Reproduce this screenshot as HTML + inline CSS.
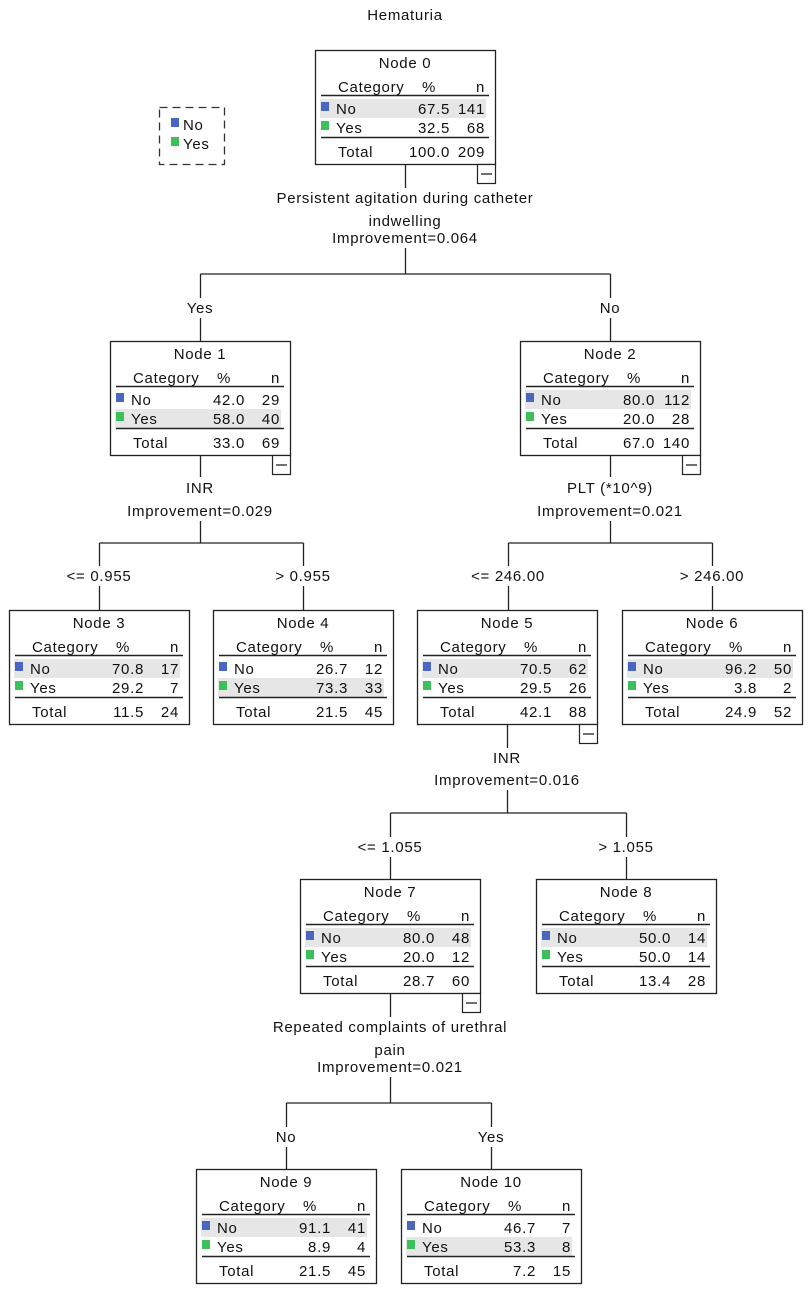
<!DOCTYPE html>
<html><head><meta charset="utf-8"><style>
html,body{margin:0;padding:0;background:#fff}
svg text{font-family:"Liberation Sans",sans-serif;font-size:15px;fill:#111;letter-spacing:0.7px}
.m{text-anchor:middle}.e{text-anchor:end}
</style></head><body>
<svg width="808" height="1291" viewBox="0 0 808 1291" xmlns="http://www.w3.org/2000/svg">
<text x="405" y="20" class="m">Hematuria</text>
<rect x="159.5" y="107.5" width="65" height="57" fill="none" stroke="#333" stroke-width="1.3" stroke-dasharray="8,5"/>
<rect x="171" y="118" width="8" height="9" fill="#4a66c0"/><text x="183" y="130">No</text>
<rect x="171" y="137" width="8" height="9" fill="#3cc05a"/><text x="183" y="149">Yes</text>

<g stroke="#222" stroke-width="1.3" fill="none">
<path d="M405.5 164V188M405.5 248V274M200.5 274H610.5M200.5 274V298M610.5 274V298M200.5 318V341M610.5 318V341"/>
<path d="M200.5 455V477M200.5 521V543M99.5 543H303.5M99.5 543V566M303.5 543V566M99.5 586V610M303.5 586V610"/>
<path d="M610.5 455V477M610.5 521V543M508.5 543H712.5M508.5 543V566M712.5 543V566M508.5 586V610M712.5 586V610"/>
<path d="M507.5 724V748M507.5 790V813M390.5 813H626.5M390.5 813V837M626.5 813V837M390.5 857V879M626.5 857V879"/>
<path d="M390.5 993V1017M390.5 1077V1103M286.5 1103H491.5M286.5 1103V1127M491.5 1103V1127M286.5 1147V1169M491.5 1147V1169"/>
</g>

<text x="405" y="203" class="m">Persistent agitation during catheter</text>
<text x="405" y="226" class="m">indwelling</text>
<text x="405" y="243" class="m">Improvement=0.064</text>
<text x="200" y="313" class="m">Yes</text>
<text x="610" y="313" class="m">No</text>
<text x="200" y="493" class="m">INR</text>
<text x="200" y="516" class="m">Improvement=0.029</text>
<text x="610" y="493" class="m">PLT (*10^9)</text>
<text x="610" y="516" class="m">Improvement=0.021</text>
<text x="99" y="581" class="m">&lt;= 0.955</text>
<text x="303" y="581" class="m">&gt; 0.955</text>
<text x="508" y="581" class="m">&lt;= 246.00</text>
<text x="712" y="581" class="m">&gt; 246.00</text>
<text x="507" y="763" class="m">INR</text>
<text x="507" y="785" class="m">Improvement=0.016</text>
<text x="390" y="852" class="m">&lt;= 1.055</text>
<text x="626" y="852" class="m">&gt; 1.055</text>
<text x="390" y="1032" class="m">Repeated complaints of urethral</text>
<text x="390" y="1055" class="m">pain</text>
<text x="390" y="1072" class="m">Improvement=0.021</text>
<text x="286" y="1142" class="m">No</text>
<text x="491" y="1142" class="m">Yes</text>

<g transform="translate(315,50)">
<rect x="0.5" y="0.5" width="180" height="114" fill="#fff" stroke="#222" stroke-width="1.3"/>
<rect x="5" y="49" width="166" height="19" fill="#e6e6e6"/>
<text x="90" y="18" class="m">Node 0</text>
<text x="23" y="42">Category</text><text x="114" y="42" class="m">%</text><text x="170" y="42" class="e">n</text>
<line x1="6" y1="45.5" x2="174" y2="45.5" stroke="#222" stroke-width="1.5"/>
<rect x="6" y="52" width="8" height="9" fill="#4a66c0"/><text x="21" y="64">No</text><text x="135" y="64" class="e">67.5</text><text x="170" y="64" class="e">141</text>
<rect x="6" y="71" width="8" height="9" fill="#3cc05a"/><text x="21" y="83">Yes</text><text x="135" y="83" class="e">32.5</text><text x="170" y="83" class="e">68</text>
<line x1="6" y1="87.5" x2="174" y2="87.5" stroke="#222" stroke-width="1.5"/>
<text x="23" y="107">Total</text><text x="135" y="107" class="e">100.0</text><text x="170" y="107" class="e">209</text>
<rect x="162.5" y="114.5" width="18" height="19" fill="#fff" stroke="#222" stroke-width="1.2"/><line x1="166" y1="124" x2="177" y2="124" stroke="#222" stroke-width="1.3"/>
</g>

<g transform="translate(110,341)">
<rect x="0.5" y="0.5" width="180" height="114" fill="#fff" stroke="#222" stroke-width="1.3"/>
<rect x="5" y="68" width="166" height="19" fill="#e6e6e6"/>
<text x="90" y="18" class="m">Node 1</text>
<text x="23" y="42">Category</text><text x="114" y="42" class="m">%</text><text x="170" y="42" class="e">n</text>
<line x1="6" y1="45.5" x2="174" y2="45.5" stroke="#222" stroke-width="1.5"/>
<rect x="6" y="52" width="8" height="9" fill="#4a66c0"/><text x="21" y="64">No</text><text x="135" y="64" class="e">42.0</text><text x="170" y="64" class="e">29</text>
<rect x="6" y="71" width="8" height="9" fill="#3cc05a"/><text x="21" y="83">Yes</text><text x="135" y="83" class="e">58.0</text><text x="170" y="83" class="e">40</text>
<line x1="6" y1="87.5" x2="174" y2="87.5" stroke="#222" stroke-width="1.5"/>
<text x="23" y="107">Total</text><text x="135" y="107" class="e">33.0</text><text x="170" y="107" class="e">69</text>
<rect x="162.5" y="114.5" width="18" height="19" fill="#fff" stroke="#222" stroke-width="1.2"/><line x1="166" y1="124" x2="177" y2="124" stroke="#222" stroke-width="1.3"/>
</g>

<g transform="translate(520,341)">
<rect x="0.5" y="0.5" width="180" height="114" fill="#fff" stroke="#222" stroke-width="1.3"/>
<rect x="5" y="49" width="166" height="19" fill="#e6e6e6"/>
<text x="90" y="18" class="m">Node 2</text>
<text x="23" y="42">Category</text><text x="114" y="42" class="m">%</text><text x="170" y="42" class="e">n</text>
<line x1="6" y1="45.5" x2="174" y2="45.5" stroke="#222" stroke-width="1.5"/>
<rect x="6" y="52" width="8" height="9" fill="#4a66c0"/><text x="21" y="64">No</text><text x="135" y="64" class="e">80.0</text><text x="170" y="64" class="e">112</text>
<rect x="6" y="71" width="8" height="9" fill="#3cc05a"/><text x="21" y="83">Yes</text><text x="135" y="83" class="e">20.0</text><text x="170" y="83" class="e">28</text>
<line x1="6" y1="87.5" x2="174" y2="87.5" stroke="#222" stroke-width="1.5"/>
<text x="23" y="107">Total</text><text x="135" y="107" class="e">67.0</text><text x="170" y="107" class="e">140</text>
<rect x="162.5" y="114.5" width="18" height="19" fill="#fff" stroke="#222" stroke-width="1.2"/><line x1="166" y1="124" x2="177" y2="124" stroke="#222" stroke-width="1.3"/>
</g>

<g transform="translate(9,610)">
<rect x="0.5" y="0.5" width="180" height="114" fill="#fff" stroke="#222" stroke-width="1.3"/>
<rect x="5" y="49" width="166" height="19" fill="#e6e6e6"/>
<text x="90" y="18" class="m">Node 3</text>
<text x="23" y="42">Category</text><text x="114" y="42" class="m">%</text><text x="170" y="42" class="e">n</text>
<line x1="6" y1="45.5" x2="174" y2="45.5" stroke="#222" stroke-width="1.5"/>
<rect x="6" y="52" width="8" height="9" fill="#4a66c0"/><text x="21" y="64">No</text><text x="135" y="64" class="e">70.8</text><text x="170" y="64" class="e">17</text>
<rect x="6" y="71" width="8" height="9" fill="#3cc05a"/><text x="21" y="83">Yes</text><text x="135" y="83" class="e">29.2</text><text x="170" y="83" class="e">7</text>
<line x1="6" y1="87.5" x2="174" y2="87.5" stroke="#222" stroke-width="1.5"/>
<text x="23" y="107">Total</text><text x="135" y="107" class="e">11.5</text><text x="170" y="107" class="e">24</text>
</g>

<g transform="translate(213,610)">
<rect x="0.5" y="0.5" width="180" height="114" fill="#fff" stroke="#222" stroke-width="1.3"/>
<rect x="5" y="68" width="166" height="19" fill="#e6e6e6"/>
<text x="90" y="18" class="m">Node 4</text>
<text x="23" y="42">Category</text><text x="114" y="42" class="m">%</text><text x="170" y="42" class="e">n</text>
<line x1="6" y1="45.5" x2="174" y2="45.5" stroke="#222" stroke-width="1.5"/>
<rect x="6" y="52" width="8" height="9" fill="#4a66c0"/><text x="21" y="64">No</text><text x="135" y="64" class="e">26.7</text><text x="170" y="64" class="e">12</text>
<rect x="6" y="71" width="8" height="9" fill="#3cc05a"/><text x="21" y="83">Yes</text><text x="135" y="83" class="e">73.3</text><text x="170" y="83" class="e">33</text>
<line x1="6" y1="87.5" x2="174" y2="87.5" stroke="#222" stroke-width="1.5"/>
<text x="23" y="107">Total</text><text x="135" y="107" class="e">21.5</text><text x="170" y="107" class="e">45</text>
</g>

<g transform="translate(417,610)">
<rect x="0.5" y="0.5" width="180" height="114" fill="#fff" stroke="#222" stroke-width="1.3"/>
<rect x="5" y="49" width="166" height="19" fill="#e6e6e6"/>
<text x="90" y="18" class="m">Node 5</text>
<text x="23" y="42">Category</text><text x="114" y="42" class="m">%</text><text x="170" y="42" class="e">n</text>
<line x1="6" y1="45.5" x2="174" y2="45.5" stroke="#222" stroke-width="1.5"/>
<rect x="6" y="52" width="8" height="9" fill="#4a66c0"/><text x="21" y="64">No</text><text x="135" y="64" class="e">70.5</text><text x="170" y="64" class="e">62</text>
<rect x="6" y="71" width="8" height="9" fill="#3cc05a"/><text x="21" y="83">Yes</text><text x="135" y="83" class="e">29.5</text><text x="170" y="83" class="e">26</text>
<line x1="6" y1="87.5" x2="174" y2="87.5" stroke="#222" stroke-width="1.5"/>
<text x="23" y="107">Total</text><text x="135" y="107" class="e">42.1</text><text x="170" y="107" class="e">88</text>
<rect x="162.5" y="114.5" width="18" height="19" fill="#fff" stroke="#222" stroke-width="1.2"/><line x1="166" y1="124" x2="177" y2="124" stroke="#222" stroke-width="1.3"/>
</g>

<g transform="translate(622,610)">
<rect x="0.5" y="0.5" width="180" height="114" fill="#fff" stroke="#222" stroke-width="1.3"/>
<rect x="5" y="49" width="166" height="19" fill="#e6e6e6"/>
<text x="90" y="18" class="m">Node 6</text>
<text x="23" y="42">Category</text><text x="114" y="42" class="m">%</text><text x="170" y="42" class="e">n</text>
<line x1="6" y1="45.5" x2="174" y2="45.5" stroke="#222" stroke-width="1.5"/>
<rect x="6" y="52" width="8" height="9" fill="#4a66c0"/><text x="21" y="64">No</text><text x="135" y="64" class="e">96.2</text><text x="170" y="64" class="e">50</text>
<rect x="6" y="71" width="8" height="9" fill="#3cc05a"/><text x="21" y="83">Yes</text><text x="135" y="83" class="e">3.8</text><text x="170" y="83" class="e">2</text>
<line x1="6" y1="87.5" x2="174" y2="87.5" stroke="#222" stroke-width="1.5"/>
<text x="23" y="107">Total</text><text x="135" y="107" class="e">24.9</text><text x="170" y="107" class="e">52</text>
</g>

<g transform="translate(300,879)">
<rect x="0.5" y="0.5" width="180" height="114" fill="#fff" stroke="#222" stroke-width="1.3"/>
<rect x="5" y="49" width="166" height="19" fill="#e6e6e6"/>
<text x="90" y="18" class="m">Node 7</text>
<text x="23" y="42">Category</text><text x="114" y="42" class="m">%</text><text x="170" y="42" class="e">n</text>
<line x1="6" y1="45.5" x2="174" y2="45.5" stroke="#222" stroke-width="1.5"/>
<rect x="6" y="52" width="8" height="9" fill="#4a66c0"/><text x="21" y="64">No</text><text x="135" y="64" class="e">80.0</text><text x="170" y="64" class="e">48</text>
<rect x="6" y="71" width="8" height="9" fill="#3cc05a"/><text x="21" y="83">Yes</text><text x="135" y="83" class="e">20.0</text><text x="170" y="83" class="e">12</text>
<line x1="6" y1="87.5" x2="174" y2="87.5" stroke="#222" stroke-width="1.5"/>
<text x="23" y="107">Total</text><text x="135" y="107" class="e">28.7</text><text x="170" y="107" class="e">60</text>
<rect x="162.5" y="114.5" width="18" height="19" fill="#fff" stroke="#222" stroke-width="1.2"/><line x1="166" y1="124" x2="177" y2="124" stroke="#222" stroke-width="1.3"/>
</g>

<g transform="translate(536,879)">
<rect x="0.5" y="0.5" width="180" height="114" fill="#fff" stroke="#222" stroke-width="1.3"/>
<rect x="5" y="49" width="166" height="19" fill="#e6e6e6"/>
<text x="90" y="18" class="m">Node 8</text>
<text x="23" y="42">Category</text><text x="114" y="42" class="m">%</text><text x="170" y="42" class="e">n</text>
<line x1="6" y1="45.5" x2="174" y2="45.5" stroke="#222" stroke-width="1.5"/>
<rect x="6" y="52" width="8" height="9" fill="#4a66c0"/><text x="21" y="64">No</text><text x="135" y="64" class="e">50.0</text><text x="170" y="64" class="e">14</text>
<rect x="6" y="71" width="8" height="9" fill="#3cc05a"/><text x="21" y="83">Yes</text><text x="135" y="83" class="e">50.0</text><text x="170" y="83" class="e">14</text>
<line x1="6" y1="87.5" x2="174" y2="87.5" stroke="#222" stroke-width="1.5"/>
<text x="23" y="107">Total</text><text x="135" y="107" class="e">13.4</text><text x="170" y="107" class="e">28</text>
</g>

<g transform="translate(196,1169)">
<rect x="0.5" y="0.5" width="180" height="114" fill="#fff" stroke="#222" stroke-width="1.3"/>
<rect x="5" y="49" width="166" height="19" fill="#e6e6e6"/>
<text x="90" y="18" class="m">Node 9</text>
<text x="23" y="42">Category</text><text x="114" y="42" class="m">%</text><text x="170" y="42" class="e">n</text>
<line x1="6" y1="45.5" x2="174" y2="45.5" stroke="#222" stroke-width="1.5"/>
<rect x="6" y="52" width="8" height="9" fill="#4a66c0"/><text x="21" y="64">No</text><text x="135" y="64" class="e">91.1</text><text x="170" y="64" class="e">41</text>
<rect x="6" y="71" width="8" height="9" fill="#3cc05a"/><text x="21" y="83">Yes</text><text x="135" y="83" class="e">8.9</text><text x="170" y="83" class="e">4</text>
<line x1="6" y1="87.5" x2="174" y2="87.5" stroke="#222" stroke-width="1.5"/>
<text x="23" y="107">Total</text><text x="135" y="107" class="e">21.5</text><text x="170" y="107" class="e">45</text>
</g>

<g transform="translate(401,1169)">
<rect x="0.5" y="0.5" width="180" height="114" fill="#fff" stroke="#222" stroke-width="1.3"/>
<rect x="5" y="68" width="166" height="19" fill="#e6e6e6"/>
<text x="90" y="18" class="m">Node 10</text>
<text x="23" y="42">Category</text><text x="114" y="42" class="m">%</text><text x="170" y="42" class="e">n</text>
<line x1="6" y1="45.5" x2="174" y2="45.5" stroke="#222" stroke-width="1.5"/>
<rect x="6" y="52" width="8" height="9" fill="#4a66c0"/><text x="21" y="64">No</text><text x="135" y="64" class="e">46.7</text><text x="170" y="64" class="e">7</text>
<rect x="6" y="71" width="8" height="9" fill="#3cc05a"/><text x="21" y="83">Yes</text><text x="135" y="83" class="e">53.3</text><text x="170" y="83" class="e">8</text>
<line x1="6" y1="87.5" x2="174" y2="87.5" stroke="#222" stroke-width="1.5"/>
<text x="23" y="107">Total</text><text x="135" y="107" class="e">7.2</text><text x="170" y="107" class="e">15</text>
</g>
</svg>
</body></html>
